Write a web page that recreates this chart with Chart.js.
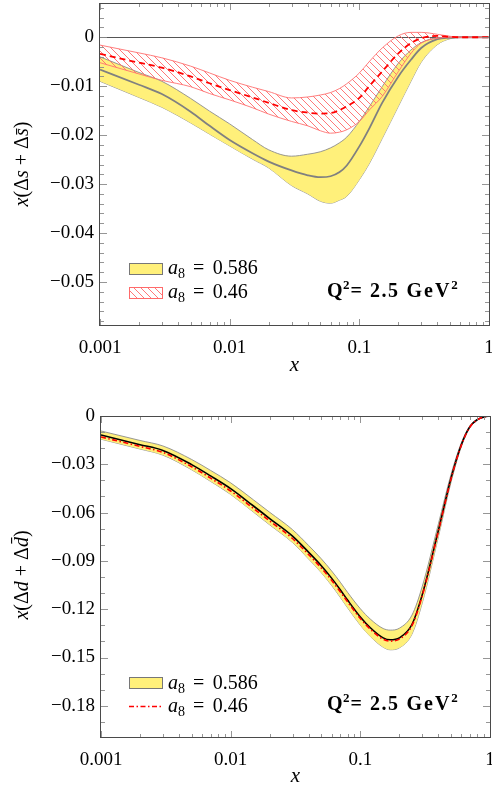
<!DOCTYPE html>
<html><head><meta charset="utf-8">
<script src="https://cdn.jsdelivr.net/npm/chart.js@4.4.1/dist/chart.umd.min.js"></script>
<style>
html,body{margin:0;padding:0;background:#fff;overflow:hidden;}
#wrap{position:relative;width:492px;height:787px;background:#fff;overflow:hidden;}
canvas{position:absolute;left:0;}
</style></head><body>
<div id="wrap">
<canvas id="c1" width="492" height="395" style="top:0px"></canvas>
<canvas id="c2" width="492" height="400" style="top:395px"></canvas>
</div>
<script>
// ---------- data: top panel  x(Δs+Δs̄) ----------
const xTop = [0.001,0.002,0.003,0.005,0.007,0.01,0.015,0.02,0.03,0.04,0.05,0.06,0.07,0.08,0.1,0.12,0.15,0.2,0.25,0.3,0.4,0.5,0.6,0.7,0.8,0.9,1];
const sYellowMid = [-0.0066,-0.0097,-0.0116,-0.0152,-0.0181,-0.0210,-0.0237,-0.0254,-0.0272,-0.0282,-0.0286,-0.0284,-0.0276,-0.0262,-0.0223,-0.0185,-0.0134,-0.0080,-0.0046,-0.0022,-0.0004,-0.0001,0,0,0,0,0];
const sYellowUp  = [-0.0040,-0.0072,-0.0090,-0.0125,-0.0151,-0.0177,-0.0209,-0.0230,-0.0243,-0.0239,-0.0234,-0.0226,-0.0216,-0.0204,-0.0172,-0.0141,-0.0101,-0.0053,-0.0026,-0.0011,-0.0001,0,0,0,0,0,0];
const sYellowLow = [-0.0090,-0.0123,-0.0143,-0.0175,-0.0198,-0.0222,-0.0249,-0.0267,-0.0303,-0.0320,-0.0335,-0.0339,-0.0333,-0.0325,-0.0291,-0.0257,-0.0207,-0.0141,-0.0090,-0.0051,-0.0015,-0.0003,0,0,0,0,0];
const sRedMid = [-0.0034,-0.0052,-0.0062,-0.0080,-0.0094,-0.0108,-0.0123,-0.0134,-0.0149,-0.0154,-0.0156,-0.0155,-0.0149,-0.0141,-0.0124,-0.0099,-0.0070,-0.0033,-0.0012,-0.0002,0.0003,0.0001,0,0,0,0,0];
const sRedUp  = [-0.0016,-0.0032,-0.0042,-0.0059,-0.0073,-0.0088,-0.0102,-0.0111,-0.0124,-0.0122,-0.0118,-0.0113,-0.0105,-0.0095,-0.0073,-0.0049,-0.0022,0.0003,0.0010,0.0010,0.0006,0.0002,0,0,0,0,0];
const sRedLow = [-0.0052,-0.0075,-0.0088,-0.0101,-0.0115,-0.0128,-0.0144,-0.0157,-0.0172,-0.0181,-0.0191,-0.0196,-0.0194,-0.0189,-0.0172,-0.0148,-0.0121,-0.0070,-0.0033,-0.0012,-0.0002,0,0,0,0,0,0];
const topYTicks = [0,-0.01,-0.02,-0.03,-0.04,-0.05];
const topYLabels = ['0','\u22120.01','\u22120.02','\u22120.03','\u22120.04','\u22120.05'];

// ---------- data: bottom panel  x(Δd+Δd̄) ----------
const xBot = [0.001,0.002,0.003,0.005,0.007,0.01,0.015,0.02,0.03,0.04,0.05,0.06,0.07,0.08,0.1,0.12,0.15,0.17,0.2,0.25,0.3,0.4,0.5,0.6,0.7,0.8,0.9,1];
const dMid = [-0.0118,-0.0178,-0.0214,-0.0302,-0.0372,-0.0451,-0.0559,-0.0637,-0.0746,-0.0847,-0.0930,-0.1007,-0.1079,-0.1145,-0.1248,-0.1317,-0.1378,-0.1390,-0.1378,-0.1295,-0.1111,-0.0710,-0.0388,-0.0180,-0.0066,-0.0022,-0.0006,0];
const dUp  = [-0.0093,-0.0152,-0.0186,-0.0270,-0.0338,-0.0415,-0.0521,-0.0598,-0.0706,-0.0805,-0.0887,-0.0962,-0.1032,-0.1097,-0.1197,-0.1263,-0.1320,-0.1330,-0.1318,-0.1237,-0.1060,-0.0670,-0.0364,-0.0168,-0.0060,-0.0019,-0.0005,0];
const dLow = [-0.0144,-0.0205,-0.0243,-0.0334,-0.0406,-0.0487,-0.0597,-0.0676,-0.0786,-0.0889,-0.0973,-0.1052,-0.1126,-0.1193,-0.1299,-0.1371,-0.1436,-0.1452,-0.1440,-0.1355,-0.1162,-0.0750,-0.0412,-0.0192,-0.0072,-0.0025,-0.0007,0];
const dRed = [-0.0130,-0.0189,-0.0226,-0.0315,-0.0386,-0.0466,-0.0574,-0.0652,-0.0761,-0.0861,-0.0944,-0.1020,-0.1091,-0.1156,-0.1258,-0.1326,-0.1386,-0.1398,-0.1386,-0.1302,-0.1118,-0.0715,-0.0392,-0.0183,-0.0068,-0.0023,-0.0006,0];
const botYTicks = [0,-0.03,-0.06,-0.09,-0.12,-0.15,-0.18];
const botYLabels = ['0','\u22120.03','\u22120.06','\u22120.09','\u22120.12','\u22120.15','\u22120.18'];

const xTickValues = [0.001,0.01,0.1,1];
const xTickLabels = ['0.001','0.01','0.1','1'];
const legendLabels = ['0.586','0.46'];

// ---------- styling ----------
const FF = '"Liberation Serif", "DejaVu Serif", serif';
const YELLOW = '#fff07a';
const toPts = (xs, ys) => xs.map((x, i) => ({x, y: ys[i]}));

function hatchPattern(){
  const s = 7, c = document.createElement('canvas');
  c.width = s; c.height = s;
  const g = c.getContext('2d');
  g.strokeStyle = '#ff6a6a'; g.lineWidth = 0.9;
  g.beginPath();
  g.moveTo(-1,-1); g.lineTo(s+1,s+1);
  g.moveTo(-1,s-1); g.lineTo(1,s+1);
  g.moveTo(s-1,-1); g.lineTo(s+1,1);
  g.stroke();
  return g.createPattern(c,'repeat');
}
const HATCH = hatchPattern();

// draw text pieces; p.ls = extra spacing between characters, p.sp = extra space after the piece
function drawPieces(ctx, pieces, x, y, draw = true){
  let cx = x;
  for (const p of pieces){
    ctx.font = p.f;
    if (p.ls){
      for (const ch of p.t){
        if (draw) ctx.fillText(ch, cx, y + (p.dy || 0));
        cx += ctx.measureText(ch).width + p.ls;
      }
    } else {
      if (draw) ctx.fillText(p.t, cx, y + (p.dy || 0));
      cx += ctx.measureText(p.t).width;
    }
    cx += (p.sp || 0);
  }
  return cx - x;
}
const fN = s => s + 'px ' + FF, fI = s => 'italic ' + s + 'px ' + FF, fB = s => 'bold ' + s + 'px ' + FF;
function a8Pieces(val){
  return [{t:'a', f:fI(20)}, {t:'8', f:fN(14), dy:4, sp:8}, {t:'=', f:fN(20), sp:8.5}, {t:val, f:fN(20)}];
}
const q2Pieces = [{t:'Q', f:fB(20), sp:0.5}, {t:'2', f:fB(13), dy:-8, sp:1}, {t:'=', f:fB(20), sp:8},
                  {t:'2.5', f:fB(20), ls:1.5, sp:7}, {t:'GeV', f:fB(20), ls:2, sp:0}, {t:'2', f:fB(13), dy:-8}];

const decor = {
  id: 'decor',
  afterDatasetsDraw(chart, args, o){
    const ctx = chart.ctx, {left, right, top, bottom} = chart.chartArea;
    const xs = chart.scales.x, ys = chart.scales.y;
    ctx.save();
    ctx.strokeStyle = '#8a8a8a'; ctx.lineWidth = 0.9;
    ctx.beginPath();
    for (let e = -3; e < 0; e++){
      for (let k = 1; k <= 9; k++){
        const v = k * Math.pow(10, e);
        const px = Math.round(xs.getPixelForValue(v)) + 0.5;
        const L = k === 1 ? 7 : 4;
        ctx.moveTo(px, bottom); ctx.lineTo(px, bottom - L);
        ctx.moveTo(px, top); ctx.lineTo(px, top + L);
      }
    }
    const n = Math.round((o.yMax - o.yMin) / o.yMinor);
    for (let i = 0; i <= n; i++){
      const v = o.yMin + i * o.yMinor;
      const major = Math.abs(v / o.yMajor - Math.round(v / o.yMajor)) < 1e-6;
      const py = Math.round(ys.getPixelForValue(v)) + 0.5;
      if (py < top + 1 || py > bottom - 1) continue;
      const L = major ? 7 : 4;
      ctx.moveTo(left, py); ctx.lineTo(left + L, py);
      ctx.moveTo(right, py); ctx.lineTo(right - L, py);
    }
    ctx.stroke();
    // frame
    ctx.strokeStyle = '#4a4a4a'; ctx.lineWidth = 1;
    ctx.strokeRect(Math.round(left) - 0.5, Math.round(top) + 0.5, Math.round(right - left) + 1, Math.round(bottom - top) - 1);

    // y axis title (mixed italic / upright)
    ctx.fillStyle = '#000';
    ctx.textBaseline = 'alphabetic';
    const w = drawPieces(ctx, o.yTitle, 0, 0, false);
    ctx.save();
    ctx.translate(o.yTitleX, o.yTitleC);
    ctx.rotate(-Math.PI / 2);
    drawPieces(ctx, o.yTitle, -w / 2, 0);
    ctx.restore();

    // legend
    const L1 = o.legend;
    ctx.fillStyle = YELLOW; ctx.strokeStyle = '#777'; ctx.lineWidth = 1;
    ctx.fillRect(L1.x, L1.y1, 34, 11); ctx.strokeRect(L1.x + 0.5, L1.y1 + 0.5, 33, 11);
    if (L1.second === 'hatch'){
      ctx.fillStyle = '#fff'; ctx.fillRect(L1.x, L1.y2, 34, 11);
      ctx.fillStyle = HATCH; ctx.fillRect(L1.x, L1.y2, 34, 11);
      ctx.strokeStyle = '#ff6a6a'; ctx.strokeRect(L1.x + 0.5, L1.y2 + 0.5, 33, 11);
    } else {
      ctx.strokeStyle = '#ff0000'; ctx.lineWidth = 1.6; ctx.setLineDash([5,2.5,1.5,2.5]);
      ctx.beginPath(); ctx.moveTo(L1.x, L1.ly); ctx.lineTo(L1.x + 34, L1.ly); ctx.stroke();
      ctx.setLineDash([]);
    }
    ctx.fillStyle = '#000';
    drawPieces(ctx, a8Pieces(legendLabels[0]), L1.tx, L1.b1);
    drawPieces(ctx, a8Pieces(legendLabels[1]), L1.tx, L1.b2);
    drawPieces(ctx, q2Pieces, o.q2.x, o.q2.y);
    ctx.restore();
  }
};

function xScale(height, titlePad){
  return {
    type: 'logarithmic', min: 0.001, max: 1,
    afterBuildTicks: a => { a.ticks = xTickValues.map(v => ({value: v})); },
    afterFit: s => { s.paddingLeft = 0; s.paddingRight = 0; s.height = height; },
    grid: {display: false},
    border: {display: false},
    ticks: {font: {family: FF, size: 19}, color: '#000', padding: 3, maxRotation: 0, autoSkip: false,
      callback: (v, i) => xTickLabels[i]},
    title: {display: true, text: 'x', color: '#000', font: {family: FF, size: 21, style: 'italic'}, padding: {top: 0, bottom: titlePad}}
  };
}
function yScale(min, max, tks, lbls, width, zeroLine){
  return {
    type: 'linear', min, max,
    afterBuildTicks: a => { a.ticks = tks.map(v => ({value: v})); },
    afterFit: s => { s.width = width; s.paddingTop = 0; s.paddingBottom = 0; },
    border: {display: false},
    grid: {drawTicks: false, color: c => (zeroLine && c.tick && c.tick.value === 0) ? '#555' : 'rgba(0,0,0,0)', lineWidth: 1},
    ticks: {font: {family: FF, size: 19}, color: '#000', padding: 6, autoSkip: false,
      callback: (v, i) => lbls[i]}
  };
}
const base = {
  responsive: false, animation: false, devicePixelRatio: 1, events: [],
  elements: {point: {radius: 0}, line: {cubicInterpolationMode: 'monotone'}},
  plugins: {legend: {display: false}, tooltip: {enabled: false}}
};

// ---------- top chart ----------
new Chart(document.getElementById('c1'), {
  type: 'line',
  data: {datasets: [
    {data: toPts(xTop, sYellowUp), fill: '+1', backgroundColor: YELLOW, borderColor: '#8c8c8c', borderWidth: 0.9, order: 10},
    {data: toPts(xTop, sYellowLow), fill: false, borderColor: '#8c8c8c', borderWidth: 0.9, order: 10},
    {data: toPts(xTop, sYellowMid), fill: false, borderColor: '#808080', borderWidth: 1.8, order: 6},
    {data: toPts(xTop, sRedUp), fill: '+1', backgroundColor: HATCH, borderColor: '#ff7070', borderWidth: 0.9, order: 3},
    {data: toPts(xTop, sRedLow), fill: false, borderColor: '#ff7070', borderWidth: 0.9, order: 3},
    {data: toPts(xTop, sRedMid), fill: false, borderColor: '#ff0000', borderWidth: 1.8, borderDash: [6, 4], order: 0}
  ]},
  options: Object.assign({}, base, {
    layout: {padding: {top: 3, right: 3, left: 0, bottom: 0}},
    scales: {x: xScale(69, 17), y: yScale(-0.059, 0.007, topYTicks, topYLabels, 100, true)},
    plugins: Object.assign({}, base.plugins, {decor: {
      yMin: -0.058, yMax: 0.006, yMinor: 0.002, yMajor: 0.01, yTitleX: 28, yTitleC: 164,
      yTitle: [{t:'x', f:fI(20)}, {t:'(\u0394', f:fN(20)}, {t:'s', f:fI(20)}, {t:' + \u0394', f:fN(20)}, {t:'s\u0304', f:fI(20)}, {t:')', f:fN(20)}],
      legend: {x: 129, y1: 263, y2: 287, second: 'hatch', tx: 168, b1: 274, b2: 298},
      q2: {x: 327, y: 297}
    }})
  }),
  plugins: [decor]
});

// ---------- bottom chart ----------
new Chart(document.getElementById('c2'), {
  type: 'line',
  data: {datasets: [
    {data: toPts(xBot, dUp), fill: '+1', backgroundColor: YELLOW, borderColor: '#8c8c8c', borderWidth: 0.9, order: 10},
    {data: toPts(xBot, dLow), fill: false, borderColor: '#8c8c8c', borderWidth: 0.9, order: 10},
    {data: toPts(xBot, dMid), fill: false, borderColor: '#000', borderWidth: 1.6, order: 2},
    {data: toPts(xBot, dRed), fill: false, borderColor: '#ff0000', borderWidth: 1.6, borderDash: [5, 2.5, 1.5, 2.5], order: 1}
  ]},
  options: Object.assign({}, base, {
    layout: {padding: {top: 21, right: 2, left: 0, bottom: 0}},
    scales: {x: xScale(57, 6), y: yScale(-0.2, 0, botYTicks, botYLabels, 101, false)},
    plugins: Object.assign({}, base.plugins, {decor: {
      yMin: -0.19, yMax: 0, yMinor: 0.01, yMajor: 0.03, yTitleX: 28, yTitleC: 180,
      yTitle: [{t:'x', f:fI(20)}, {t:'(\u0394', f:fN(20)}, {t:'d', f:fI(20)}, {t:' + \u0394', f:fN(20)}, {t:'d\u0304', f:fI(20)}, {t:')', f:fN(20)}],
      legend: {x: 129, y1: 282, second: 'line', ly: 311.5, tx: 168, b1: 294, b2: 317},
      q2: {x: 327, y: 315}
    }})
  }),
  plugins: [decor]
});
</script>
</body></html>
